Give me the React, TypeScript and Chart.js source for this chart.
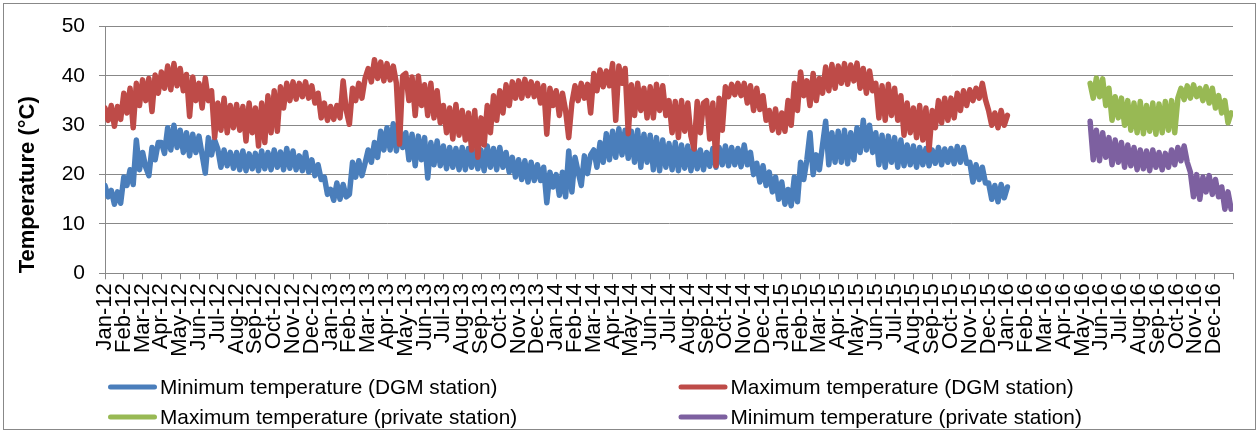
import React, { useEffect, useRef } from 'react';
import { Chart, registerables } from 'chart.js';

Chart.register(...registerables);

// ---------- tick labels ----------
const monthNames = ['Jan', 'Feb', 'Mar', 'Apr', 'May', 'Jun', 'Jul', 'Aug', 'Sep', 'Oct', 'Nov', 'Dec'];
const yearLabels = ['12', '13', '14', '15', '16'];
const monthTickLabels = yearLabels.flatMap((y) => monthNames.map((m) => `${m}-${y}`));
const yTickValues = [0, 10, 20, 30, 40, 50];
const yAxisTitle = 'Temperature (°C)';

// ---------- series ----------
const seriesLabels = [
  'Minimum temperature (DGM station)',
  'Maximum temperature (DGM station)',
  'Maximum temperature (private station)',
  'Minimum temperature (private station)',
];
const seriesColors = ['#4A7EBB', '#BE4B48', '#98B954', '#7D60A0'];

// readings are spaced one sixth of a month apart (x axis in months from Jan-12)
const readingsPerMonth = 6;
const dgmStartMonth = 0;
const privateStartMonth = 52.4;

// DGM station minimum (Jan-12 .. Dec-15), six readings per month (one row per month)
const dgmMin = [
  17.8, 15.5, 16.8, 14, 16.5, 14.2,
  19.5, 17.8, 21, 18, 27, 21,
  24.5, 21.5, 19.8, 25.5, 23, 26.5,
  26.5, 24.3, 29.5, 25, 30, 25.5,
  29, 24.5, 28.5, 23.8, 28.2, 24.5,
  27.8, 24, 20.3, 27.5, 24, 27,
  25.2, 21.5, 25, 21.8, 24.5, 21.3,
  24.5, 21, 24.8, 20.8, 24.2, 21.2,
  24.3, 20.8, 24.8, 21.2, 24.5, 21,
  25, 21.5, 24.6, 21, 25.3, 21.3,
  24.8, 21, 23.8, 20.8, 24.5, 20.5,
  23, 19.8, 22, 19, 19.5, 16,
  17, 14.8, 18.3, 15, 18, 15.5,
  16, 22.5, 19.5, 22.8, 19.8, 22.3,
  25, 22.5, 26.5, 23.5, 28.8, 25,
  29.5, 25, 30.3, 24.8, 29, 25.5,
  28.5, 23, 28.2, 21.8, 27.8, 23,
  27.5, 19.3, 26.5, 22, 26.8, 21.8,
  25.8, 21.2, 25.5, 21.5, 25.3, 21,
  25.5, 21, 25.3, 21.5, 24.8, 21.2,
  25, 20.8, 25.8, 21.5, 25.3, 21,
  25.5, 21.5, 24.5, 20.5, 23.5, 19.5,
  23, 19, 22.8, 18.5, 22.5, 18.8,
  22, 18.8, 21.5, 14.3, 20.5, 17.5,
  20, 15.8, 20.5, 15.5, 24.8, 16.5,
  23.5, 20.5, 17.8, 23.8, 20.2, 24,
  25, 21.5, 26.5, 22.5, 28.3, 23,
  28.8, 23.5, 29.3, 24, 29, 23.3,
  28.8, 22.5, 29, 21.5, 28.2, 22.5,
  28, 21, 27.5, 20.8, 27, 21.5,
  26.3, 21, 26.5, 20.8, 26, 21.3,
  25.8, 20.8, 25.5, 21.2, 25, 21,
  24.5, 21.7, 25.3, 21.5, 25.5, 22,
  25.8, 21.8, 25.5, 22, 25.3, 21.6,
  26, 22, 24.5, 20, 22.3, 18.5,
  21.8, 17.8, 20.5, 16.5, 19.5, 15,
  18.5, 14, 17, 13.7, 19.5, 14.5,
  22.5, 19, 23, 28.5, 20, 24,
  21, 26, 30.8, 22, 28.5, 22.5,
  28.8, 22.5, 29, 22.2, 28.5, 23,
  29.5, 24.5, 31, 25, 30, 24.5,
  28.5, 22, 28, 21.5, 27.8, 22.5,
  27.5, 21.5, 27, 21.8, 26, 22,
  25.8, 21.5, 25.5, 22, 25.3, 21.8,
  25, 22.3, 25.5, 22, 25.2, 22.5,
  25.3, 22.2, 25.7, 22.5, 25.5, 22.3,
  22.5, 18.5, 22, 19, 21.5, 18.3,
  18.3, 15, 17.8, 14.5, 18, 15.3,
  17.5,
];

// DGM station maximum (Jan-12 .. Dec-15), six readings per month (one row per month)
const dgmMax = [
  33.5, 31, 34, 29.8, 33.8, 31.2,
  36.5, 32.5, 37.5, 29.5, 38.5, 34,
  39.2, 35, 39.5, 32.8, 40.2, 36.5,
  40.8, 37.5, 42, 37.2, 42.5, 38,
  41.5, 37, 40.3, 31.8, 39.8, 35,
  38.5, 33.5, 39.6, 35, 37, 27.5,
  34.5, 29, 35.5, 28.5, 34, 29.5,
  34.2, 29, 33.8, 26.8, 34.5, 28.5,
  33.5, 25.8, 34.5, 26.5, 36, 28.5,
  37, 28.8, 37.8, 33.5, 38.5, 35,
  38.8, 35.3, 38.5, 35.8, 38.8, 35.5,
  38, 34.5, 36.5, 31.5, 34.5, 31,
  33.8, 31.2, 34, 31.5, 39, 33,
  30.2, 37.5, 35, 38.5, 35.5, 39.5,
  41.5, 38.8, 43.3, 39.5, 42.8, 39,
  42.5, 39.2, 42, 38.5, 26.2, 40,
  40.5, 35, 39.8, 32, 40, 34,
  38.2, 32, 38.5, 31.5, 37, 30.5,
  34, 28.5, 33.5, 27.2, 34.2, 28,
  33, 27, 32.5, 25, 33, 23.5,
  31.5, 26, 34, 28.5, 36, 31,
  37, 32.5, 38.2, 34, 38.8, 35.5,
  39, 35.5, 39.3, 36, 38.8, 35.8,
  38.5, 34.5, 38, 28.2, 37.5, 34,
  37, 32, 36.5, 33, 27.5, 34.5,
  38, 35, 38.5, 35.5, 38.3, 32.5,
  40.5, 37, 41.2, 37.8, 41, 38,
  42.5, 31, 42, 38.5, 41.5, 28.3,
  38.2, 32, 38.5, 33, 37.5, 31.5,
  37.8, 31.5, 38.3, 33, 38, 32,
  35, 28.5, 34.8, 27.5, 35, 28.8,
  34.5, 27.8, 25.2, 34.8, 28.5, 34.5,
  35, 27.2, 34.5, 21.8, 35.5, 29,
  37.8, 35.8, 38.3, 36.2, 38.5, 36,
  38.5, 34.5, 38, 33, 37.5, 33.2,
  36, 31, 33, 29, 33.3, 28.5,
  32.5, 28.8, 35, 30, 38.5, 33,
  40.8, 36, 39, 34, 40.5, 35,
  39.5, 36.5, 41.8, 37, 42.3, 37.5,
  42, 38.5, 42.5, 38.3, 42.2, 39,
  42.6, 37.5, 41.5, 36.5, 41, 37,
  38.5, 31.5, 38, 31, 38.3, 32,
  37.5, 31, 36, 28, 34.5, 28.5,
  33.5, 27.5, 34, 27, 33.5, 25,
  33, 29.5, 35, 30.5, 35.5, 31,
  35.5, 31.5, 36.5, 33, 37, 34,
  37.2, 35, 37.5, 35.5, 38.5, 35.2,
  33, 30, 32.5, 29.5, 33, 30,
  32,
];

// private station maximum (mid May-16 .. Dec-16)
const privateMax = [
  38.5, 35.5, 39.6, 35.8, 39.4, 34, 37.5, 31, 35.8, 31.5,
  35.5, 30, 35, 29, 34.5, 28.5, 34.8, 28.3, 34, 28.8,
  34.5, 28.2, 34.3, 28.5, 34.8, 29, 35, 28.5, 35.5, 37.5,
  35.2, 38, 35.5, 38.2, 35.8, 37.5, 35, 37.8, 34.5, 37.5,
  33.5, 36, 32.5, 35, 30.5, 32.5,
];

// private station minimum (mid May-16 .. Dec-16)
const privateMin = [
  30.8, 23, 29, 22.8, 28.5, 23.5, 27.5, 22, 27, 22.5,
  26.5, 21.5, 26, 21.8, 25.5, 21, 25, 21.2, 24.8, 20.8,
  25, 21.5, 24.5, 21, 24.3, 21.5, 25, 22, 25.5, 22.8,
  25.8, 22.5, 20.5, 15.5, 20, 15, 19.5, 16.5, 19.8, 16,
  19, 15.5, 17.5, 13, 16.5, 13,
];

const toPoints = (start: number, values: number[]) =>
  values.map((v, i) => ({ x: start + i / readingsPerMonth, y: v }));

const FONT = 'Arial, "Liberation Sans", sans-serif';

const frameBorder = {
  id: 'frameBorder',
  beforeDraw(chart: any) {
    const { ctx } = chart;
    ctx.save();
    ctx.fillStyle = '#ffffff';
    ctx.fillRect(0, 0, chart.width, chart.height);
    ctx.strokeStyle = '#888888';
    ctx.lineWidth = 1;
    ctx.strokeRect(3.5, 3.5, chart.width - 7, chart.height - 6);
    ctx.restore();
  },
};

const gridLegend = {
  id: 'gridLegend',
  afterDraw(chart: any) {
    const { ctx } = chart;
    const cols = [110.5, 681];
    const rows = [387, 417];
    ctx.save();
    chart.data.datasets.forEach((ds: any, i: number) => {
      const x = cols[i % 2];
      const y = rows[Math.floor(i / 2)];
      ctx.strokeStyle = ds.borderColor;
      ctx.lineWidth = 5;
      ctx.lineCap = 'round';
      ctx.beginPath();
      ctx.moveTo(x, y);
      ctx.lineTo(x + 44, y);
      ctx.stroke();
      ctx.fillStyle = '#000000';
      ctx.font = `20.8px ${FONT}`;
      ctx.textAlign = 'left';
      ctx.textBaseline = 'middle';
      ctx.fillText(ds.label, x + 49.5, y + 1.5);
    });
    ctx.restore();
  },
};

export default function App() {
  const canvasRef = useRef<HTMLCanvasElement>(null);

  useEffect(() => {
    if (!canvasRef.current) return;
    Chart.defaults.font.family = FONT;
    const lineStyle = {
      borderWidth: 5.5,
      pointRadius: 0,
      pointHoverRadius: 0,
      tension: 0,
      borderJoinStyle: 'round' as const,
      borderCapStyle: 'round' as const,
      fill: false,
    };
    const chart = new Chart(canvasRef.current, {
      type: 'line',
      data: {
        datasets: [
          { ...lineStyle, label: seriesLabels[0], data: toPoints(dgmStartMonth, dgmMin), borderColor: seriesColors[0], backgroundColor: seriesColors[0], order: 1 },
          { ...lineStyle, label: seriesLabels[1], data: toPoints(dgmStartMonth, dgmMax), borderColor: seriesColors[1], backgroundColor: seriesColors[1], order: 0 },
          { ...lineStyle, label: seriesLabels[2], data: toPoints(privateStartMonth, privateMax), borderColor: seriesColors[2], backgroundColor: seriesColors[2], order: 2 },
          { ...lineStyle, label: seriesLabels[3], data: toPoints(privateStartMonth, privateMin), borderColor: seriesColors[3], backgroundColor: seriesColors[3], order: 3 },
        ],
      },
      options: {
        animation: false,
        responsive: true,
        maintainAspectRatio: false,
        events: [],
        layout: { padding: { left: 4, right: 26, top: 23.3, bottom: 70.7 } },
        plugins: {
          legend: { display: false },
          tooltip: { enabled: false },
          title: { display: false },
        },
        scales: {
          x: {
            type: 'linear',
            min: 0,
            max: monthTickLabels.length,
            afterBuildTicks: (scale: any) => {
              scale.ticks = monthTickLabels
                .map((_, i) => ({ value: i }))
                .concat([{ value: monthTickLabels.length }]);
            },
            afterFit: (scale: any) => {
              scale.height = 88;
              scale.paddingLeft = 0;
              scale.paddingRight = 0;
            },
            ticks: {
              autoSkip: false,
              minRotation: 90,
              maxRotation: 90,
              padding: 4,
              color: '#000000',
              font: { size: 22, family: FONT },
              callback: (v: any) => monthTickLabels[v] ?? '',
            },
            grid: { drawOnChartArea: false, drawTicks: true, tickLength: 6, color: '#888888', lineWidth: 1 },
            border: { color: '#888888', width: 1 },
          },
          y: {
            min: 0,
            max: 50,
            afterBuildTicks: (scale: any) => {
              scale.ticks = yTickValues.map((v) => ({ value: v }));
            },
            afterFit: (scale: any) => {
              scale.width = 101;
            },
            ticks: { padding: 14, color: '#000000', font: { size: 21, family: FONT } },
            grid: { color: '#888888', lineWidth: 1, tickLength: 6 },
            border: { color: '#888888', width: 1 },
            title: {
              display: true,
              text: yAxisTitle,
              align: 'start',
              color: '#000000',
              font: { size: 22, weight: 'bold', family: FONT },
              padding: { top: 11.2, bottom: 0 },
            },
          },
        },
      },
      plugins: [frameBorder, gridLegend],
    });
    return () => chart.destroy();
  }, []);

  return (
    <div style={{ position: 'absolute', left: 0, top: 0, width: 1259, height: 432 }}>
      <canvas ref={canvasRef} />
    </div>
  );
}
